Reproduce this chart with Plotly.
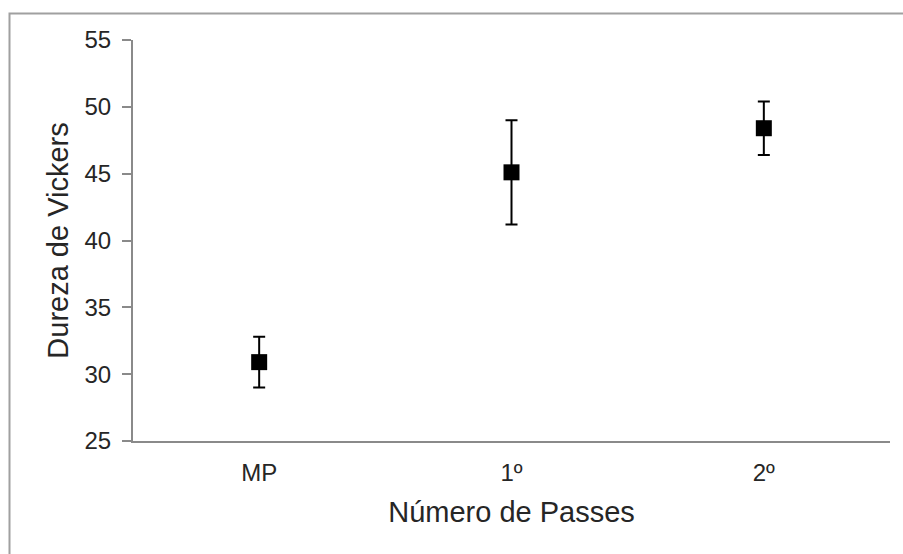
import plotly.graph_objects as go

categories = ["MP", "1º", "2º"]
hardness = [30.9, 45.1, 48.4]
errors = [1.9, 3.9, 2.0]
y_ticks = [25, 30, 35, 40, 45, 50, 55]

W, H = 903, 554
L, R, T, B = 133, 13, 40, 113
pw, ph = W - L - R, H - T - B

def px_to_paper_x(px):
    return (px - L) / pw

def px_to_paper_y(py):
    return (H - B - py) / ph

fig = go.Figure()
fig.add_trace(go.Scatter(
    x=categories, y=hardness, mode="markers",
    marker=dict(symbol="square", size=16, color="black"),
    error_y=dict(type="data", array=errors, visible=True, color="black", thickness=2, width=6),
    showlegend=False,
))

FAM = "Liberation Sans, Arial, sans-serif"
axis_font = dict(family=FAM, size=24, color="#262626")
fig.update_layout(
    width=W, height=H,
    margin=dict(l=L, r=R, t=T, b=B),
    paper_bgcolor="white", plot_bgcolor="white",
    xaxis=dict(
        type="category", range=[-0.5, 2.5], showgrid=False, zeroline=False,
        showline=True, linecolor="#8a8a8a", linewidth=2, ticks="",
        tickfont=axis_font, ticklabelstandoff=9,
        title=dict(text="Número de Passes", font=dict(family=FAM, size=29, color="#262626"), standoff=17),
    ),
    yaxis=dict(
        range=[25, 55], tickvals=y_ticks, showgrid=False, zeroline=False,
        showline=True, linecolor="#8a8a8a", linewidth=2,
        ticks="outside", ticklen=9, tickcolor="#8a8a8a", tickwidth=1.5,
        tickfont=axis_font, ticklabelstandoff=6,
        title=dict(text="Dureza de Vickers", font=dict(family=FAM, size=29, color="#262626"), standoff=7),
    ),
    shapes=[dict(
        type="rect", xref="paper", yref="paper",
        x0=px_to_paper_x(9.5), x1=px_to_paper_x(W + 20),
        y0=px_to_paper_y(H + 20), y1=px_to_paper_y(13.5),
        line=dict(color="#a0a0a0", width=2), fillcolor="rgba(0,0,0,0)", layer="below",
    )],
)

fig.write_html("out.html")
